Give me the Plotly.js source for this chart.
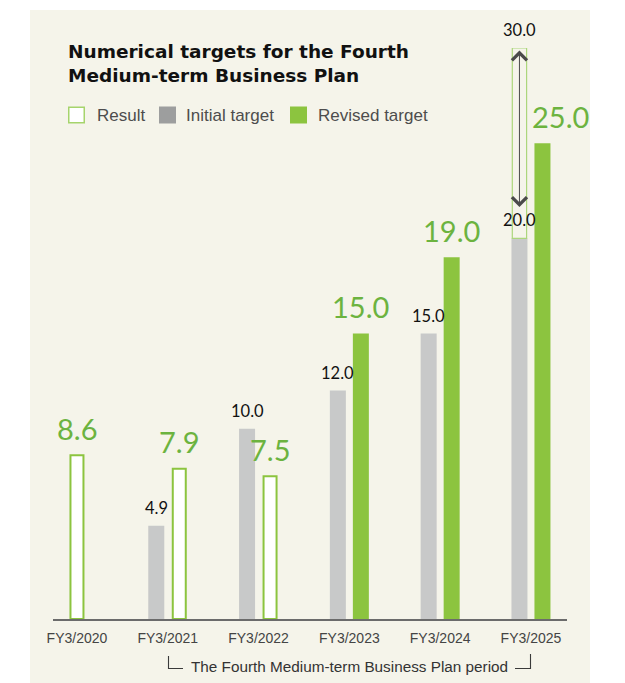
<!DOCTYPE html>
<html>
<head>
<meta charset="utf-8">
<script src="https://cdn.plot.ly/plotly-3.0.1.min.js"></script>
<style>
  html, body { margin: 0; padding: 0; background: #ffffff; }
  #chart { width: 625px; height: 683px; }
</style>
</head>
<body>
<div id="chart"></div>
<script>
// ---- Data ----
const categories = ['FY3/2020', 'FY3/2021', 'FY3/2022', 'FY3/2023', 'FY3/2024', 'FY3/2025'];
const resultValues = [8.6, 7.9, 7.5, null, null, null];
const initialTargetValues = [null, 4.9, 10.0, 12.0, 15.0, 20.0];
const revisedTargetValues = [null, null, null, 15.0, 19.0, 25.0];
const rangeCategories = ['FY3/2025'];
const rangeLow = [20.0];
const rangeHigh = [30.0];
const legendLabels = ['Result', 'Initial target', 'Revised target'];
const titleText = 'Numerical targets for the Fourth<br>Medium-term Business Plan';
const periodNote = 'The Fourth Medium-term Business Plan period';

// ---- Layout geometry (pixels) ----
const W = 625, H = 683;
const M = { l: 53, r: 58, t: 48, b: 64 };
const plotW = W - M.l - M.r, plotH = H - M.t - M.b;
const xRange = [-0.264, 5.397];
const pxPerUnit = plotW / (xRange[1] - xRange[0]);
const u = px => px / pxPerUnit;                 // pixels -> x units
const pX = px => (px - M.l) / plotW;            // pixel x -> paper
const pY = py => (H - M.b - py) / plotH;        // pixel y -> paper

const barW = u(16);
const resW = u(13);
const rangeW = u(14.3);
const slot = u(11.5);
// slot position of the result bar in each category (-1 left, 0 centre, +1 right)
const resultSlot = [0, 1, 1, 0, 0, 0];

// ---- Colours ----
const GREEN = '#8cc43f', GREEN_TXT = '#6cb33f', GRAY = '#c8c9c9', PANEL = '#f5f4ea';

const traces = [
  {
    type: 'bar', name: 'Initial target', x: categories, y: initialTargetValues,
    width: barW, offset: -slot - barW / 2,
    marker: { color: GRAY, line: { width: 0 } }, showlegend: false, hoverinfo: 'x+y'
  },
  {
    type: 'bar', name: 'Revised target', x: categories, y: revisedTargetValues,
    width: barW, offset: slot - barW / 2,
    marker: { color: GREEN, line: { width: 0 } }, showlegend: false, hoverinfo: 'x+y'
  },
  {
    type: 'bar', name: 'Result', x: categories, y: resultValues,
    width: resW, offset: resultSlot.map(s => s * slot - resW / 2),
    marker: { color: '#ffffff', line: { color: GREEN, width: 2 } }, showlegend: false, hoverinfo: 'x+y'
  },
  {
    type: 'bar', name: 'Target range', x: rangeCategories,
    base: rangeLow, y: rangeHigh.map((h, i) => h - rangeLow[i]),
    width: rangeW, offset: -slot - rangeW / 2,
    marker: { color: 'rgba(0,0,0,0)', line: { color: '#acd67c', width: 1.2 } }, showlegend: false, hoverinfo: 'x'
  }
];

const annotations = [];
const numFont = 'Lato, "DejaVu Sans", sans-serif';
categories.forEach((c, i) => {
  if (initialTargetValues[i] != null) {
    annotations.push({
      x: i - slot, y: initialTargetValues[i], xref: 'x', yref: 'y',
      text: initialTargetValues[i].toFixed(1), showarrow: false,
      yanchor: 'middle', yshift: 18,
      font: { family: numFont, size: 16.5, color: '#111111' }
    });
  }
  if (revisedTargetValues[i] != null) {
    annotations.push({
      x: i + slot, y: revisedTargetValues[i], xref: 'x', yref: 'y',
      text: revisedTargetValues[i].toFixed(1), showarrow: false,
      yanchor: 'middle', yshift: 27, xshift: i === categories.length - 1 ? 18 : 0,
      font: { family: numFont, size: 29, color: GREEN_TXT }
    });
  }
  if (resultValues[i] != null) {
    annotations.push({
      x: i + resultSlot[i] * slot, y: resultValues[i], xref: 'x', yref: 'y',
      text: resultValues[i].toFixed(1), showarrow: false,
      yanchor: 'middle', yshift: 27,
      font: { family: numFont, size: 29, color: GREEN_TXT }
    });
  }
});
// top of the range
rangeCategories.forEach((c, j) => {
  const i = categories.indexOf(c);
  annotations.push({
    x: i - slot, y: rangeHigh[j], xref: 'x', yref: 'y',
    text: rangeHigh[j].toFixed(1), showarrow: false,
    yanchor: 'middle', yshift: 18,
    font: { family: numFont, size: 16.5, color: '#111111' }
  });
  // double-headed arrow inside the range
  annotations.push({
    x: i - slot, y: rangeLow[j] + 1.65, xref: 'x', yref: 'y',
    ax: i - slot, ay: rangeHigh[j] - 0.05, axref: 'x', ayref: 'y',
    text: '', showarrow: true, arrowside: 'start+end',
    arrowhead: 4, startarrowhead: 4, arrowsize: 2.9, startarrowsize: 2.9,
    arrowwidth: 1, arrowcolor: '#4a4a4a', standoff: 0, startstandoff: 0
  });
});

// legend (drawn manually to match swatch sizes)
const legendItems = [
  { label: legendLabels[0], sx: 68, tx: 95, fill: '#ffffff', line: '#a6d46c' },
  { label: legendLabels[1], sx: 159, tx: 184, fill: '#9d9e9e', line: null },
  { label: legendLabels[2], sx: 290, tx: 316, fill: GREEN, line: null }
];
const shapes = [
  { type: 'rect', xref: 'paper', yref: 'paper', layer: 'below',
    x0: pX(30), x1: pX(590), y0: pY(H + 2), y1: pY(10),
    fillcolor: PANEL, line: { width: 0 } }
];
legendItems.forEach(it => {
  shapes.push({
    type: 'rect', xref: 'paper', yref: 'paper',
    x0: pX(it.sx + (it.line ? 0.75 : 0)), x1: pX(it.sx + 17 - (it.line ? 0.75 : 0)),
    y0: pY(123.5 - (it.line ? 0.75 : 0)), y1: pY(106.5 + (it.line ? 0.75 : 0)),
    fillcolor: it.fill, line: it.line ? { color: it.line, width: 1.5 } : { width: 0 }
  });
  annotations.push({
    xref: 'paper', yref: 'paper', x: pX(it.tx), y: pY(115.5),
    xanchor: 'left', yanchor: 'middle', showarrow: false, text: it.label,
    font: { family: '"Liberation Sans", Arial, sans-serif', size: 17, color: '#4d4d4d' }
  });
});
// period bracket
shapes.push({
  type: 'path', xref: 'paper', yref: 'paper',
  path: `M${pX(168.5)},${pY(656)} L${pX(168.5)},${pY(668.5)} L${pX(183)},${pY(668.5)}`,
  line: { color: '#3a3a3a', width: 1.1 }
});
shapes.push({
  type: 'path', xref: 'paper', yref: 'paper',
  path: `M${pX(515)},${pY(668.5)} L${pX(530.5)},${pY(668.5)} L${pX(530.5)},${pY(654)}`,
  line: { color: '#3a3a3a', width: 1.1 }
});
annotations.push({
  xref: 'paper', yref: 'paper', x: pX(349.5), y: pY(667),
  xanchor: 'center', yanchor: 'middle', showarrow: false, text: periodNote,
  font: { family: '"Liberation Sans", Arial, sans-serif', size: 15.3, color: '#333333' }
});

const layout = {
  width: W, height: H,
  margin: M,
  paper_bgcolor: '#ffffff',
  plot_bgcolor: 'rgba(0,0,0,0)',
  barmode: 'overlay',
  showlegend: false,
  title: {
    text: titleText, xref: 'container', yref: 'container',
    x: 68 / W, xanchor: 'left', y: 1 - 58 / H, yanchor: 'top',
    font: { family: '"DejaVu Sans", sans-serif', size: 18.5, weight: 700, color: '#111111' }
  },
  xaxis: {
    type: 'category', range: xRange, fixedrange: true,
    showline: true, linecolor: '#6b6b6b', linewidth: 2,
    ticks: '', showgrid: false, zeroline: false, ticklabelstandoff: 5,
    tickfont: { family: '"Liberation Sans", Arial, sans-serif', size: 14, color: '#444444' }
  },
  yaxis: {
    range: [0, 30], visible: false, showgrid: false, zeroline: false, fixedrange: true
  },
  annotations: annotations,
  shapes: shapes
};

Plotly.newPlot('chart', traces, layout, { displayModeBar: false, staticPlot: true });
</script>
</body>
</html>
